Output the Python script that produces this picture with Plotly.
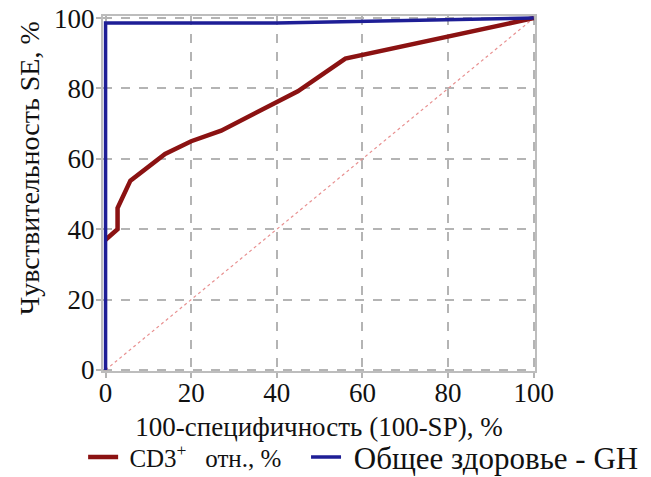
import plotly.graph_objects as go

# Data
cd3_x = [0, 2.8, 2.8, 5.8, 13.9, 20, 27, 44.9, 56, 68.8, 100]
cd3_y = [37, 40, 46, 53.8, 61.4, 65, 68, 79.2, 88.5, 91.8, 100]
gh_x = [0, 0, 40, 60, 100]
gh_y = [0, 98.6, 98.6, 99.1, 100]
diag_x = [0, 100]
diag_y = [0, 100]
tick_vals = [0, 20, 40, 60, 80, 100]
tick_text = ["0", "20", "40", "60", "80", "100"]

FONT = "Liberation Serif"
NB = "\u00a0"

fig = go.Figure()
fig.add_trace(go.Scatter(x=diag_x, y=diag_y, mode="lines", showlegend=False,
                         line=dict(color="#e89090", width=1.2, dash="dot"),
                         hoverinfo="skip"))
fig.add_trace(go.Scatter(x=cd3_x, y=cd3_y, mode="lines",
                         name=NB + "CD3<sup>+</sup>" + NB * 3 + "отн., %",
                         line=dict(color="#8b1212", width=4.5), legend="legend"))
fig.add_trace(go.Scatter(x=gh_x, y=gh_y, mode="lines",
                         name=NB + "Общее здоровье - GH",
                         line=dict(color="#1e1e96", width=3.5), legend="legend2"))

axis_common = dict(
    showgrid=True, gridcolor="#b4b4b4", gridwidth=1.5, griddash="dash",
    showline=True, mirror=True, linecolor="#bdbdbd", linewidth=2,
    ticks="outside", ticklen=5, tickcolor="#b4b4b4", tickwidth=1.5,
    tickvals=tick_vals, ticktext=tick_text,
    tickfont=dict(family=FONT, size=27, color="#111"),
    zeroline=False, automargin=False, ticklabeloverflow="allow",
)

fig.update_xaxes(range=[-0.6, 100.3], **axis_common, ticklabelstandoff=-8,
                 title=dict(text="100-специфичность (100-SP), %",
                            font=dict(family=FONT, size=27, color="#111"),
                            standoff=10))
fig.update_yaxes(range=[-0.3, 100.6], **axis_common, ticklabelstandoff=-4)

# y-axis title (placed as a rotated annotation to match the reference position)
fig.add_annotation(text="Чувствительность SE, %", textangle=-90,
                   xref="paper", yref="paper", x=-0.169, y=0.572,
                   xanchor="center", yanchor="middle", showarrow=False,
                   font=dict(family=FONT, size=28, color="#111"))

leg_common = dict(orientation="h", yanchor="middle", y=-0.243, xanchor="left",
                  bgcolor="rgba(0,0,0,0)", itemwidth=30)

# the page body adds an 8px offset, so the figure is 8px smaller with shifted margins
fig.update_layout(
    width=643, height=469,
    margin=dict(l=95, r=116, t=8, b=106, autoexpand=False),
    plot_bgcolor="white", paper_bgcolor="white",
    font=dict(family=FONT, color="#111"),
    legend=dict(x=-0.046, font=dict(family=FONT, size=25, color="#111"), **leg_common),
    legend2=dict(x=0.47, font=dict(family=FONT, size=31, color="#111"), **leg_common),
)

fig.write_html("out.html")
